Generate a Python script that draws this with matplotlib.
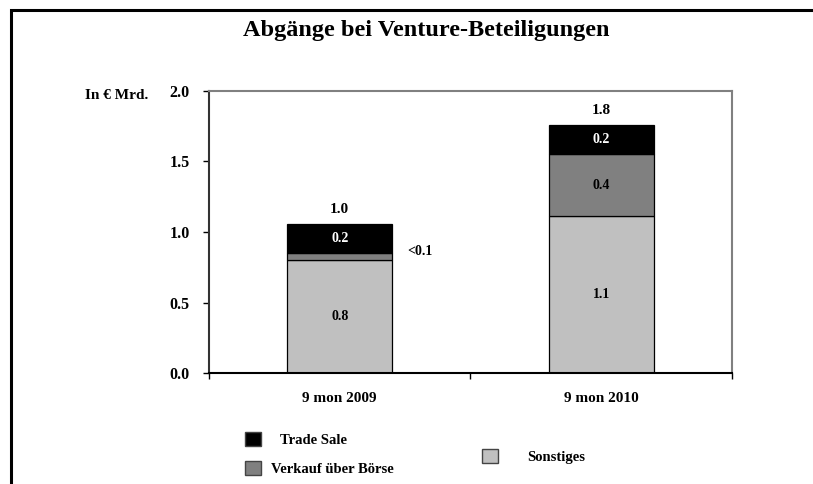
import matplotlib.pyplot as plt
from matplotlib.patches import Rectangle, Patch

# Daten
kategorien = ['9 mon 2009', '9 mon 2010']
sonstiges = [0.80, 1.11]
boerse = [0.05, 0.44]
trade_sale = [0.21, 0.21]
labels_sonstiges = ['0.8', '1.1']
labels_boerse = ['<0.1', '0.4']
labels_trade = ['0.2', '0.2']
labels_total = ['1.0', '1.8']

plt.rcParams['font.family'] = ['Liberation Serif', 'DejaVu Serif']
plt.rcParams['font.weight'] = 'bold'

fig = plt.figure(figsize=(8.13, 4.84), dpi=100)
ax = fig.add_axes([0.257, 0.2293, 0.6434, 0.5827])

x = list(range(len(kategorien)))
b = 0.40
ax.bar(x, sonstiges, width=b, color='#c0c0c0', edgecolor='black', linewidth=0.9)
ax.bar(x, boerse, width=b, bottom=sonstiges, color='#808080', edgecolor='black', linewidth=0.9)
unten = [s + v for s, v in zip(sonstiges, boerse)]
ax.bar(x, trade_sale, width=b, bottom=unten, color='black', edgecolor='black', linewidth=0.9)

for i in x:
    ax.text(i, sonstiges[i] / 2, labels_sonstiges[i], ha='center', va='center', fontsize=10)
    ax.text(i, unten[i] + trade_sale[i] / 2, labels_trade[i], ha='center', va='center',
            fontsize=10, color='white')
    total = unten[i] + trade_sale[i]
    ax.text(i, total + 0.1, labels_total[i], ha='center', va='center', fontsize=11)
# Börse-Anteil
ax.text(0.26, sonstiges[0] + boerse[0] / 2 + 0.04, labels_boerse[0], ha='left', va='center', fontsize=10)
ax.text(1, sonstiges[1] + boerse[1] / 2, labels_boerse[1], ha='center', va='center', fontsize=10)

ax.set_xlim(-0.5, 1.5)
ax.set_ylim(0, 2.0)
ax.set_yticks([0, 0.5, 1.0, 1.5, 2.0])
ax.set_yticklabels(['0.0', '0.5', '1.0', '1.5', '2.0'], fontsize=11.5)
ax.set_xticks([-0.5, 0.5, 1.5])
ax.set_xticklabels([])
ax.set_xticks(x, minor=True)
ax.set_xticklabels(kategorien, minor=True, fontsize=11)
ax.tick_params(axis='x', which='minor', length=0, pad=14)
ax.tick_params(axis='both', which='major', length=4, direction='out', width=1)
ax.tick_params(axis='y', pad=10)
for s in ['top', 'right']:
    ax.spines[s].set_color('#808080')
    ax.spines[s].set_linewidth(1.5)
ax.spines['left'].set_color('#333333')
ax.spines['left'].set_linewidth(1.5)
ax.spines['bottom'].set_linewidth(1.5)

fig.text(0.524, 0.937, 'Abgänge bei Venture-Beteiligungen', ha='center', va='center', fontsize=17.5)
fig.text(0.143, 0.803, 'In € Mrd.', ha='center', va='center', fontsize=11)

# Legende
leg_opts = dict(frameon=False, fontsize=10.5, handlelength=1.1, handleheight=1.1)
fig.legend(handles=[Patch(facecolor='black', edgecolor='#444444', label='Trade Sale')],
           loc='center left', bbox_to_anchor=(0.285, 0.091), handletextpad=1.3, **leg_opts)
fig.legend(handles=[Patch(facecolor='#808080', edgecolor='#444444', label='Verkauf über Börse')],
           loc='center left', bbox_to_anchor=(0.285, 0.033), handletextpad=0.7, **leg_opts)
fig.legend(handles=[Patch(facecolor='#c0c0c0', edgecolor='#444444', label='Sonstiges')],
           loc='center left', bbox_to_anchor=(0.577, 0.057), handletextpad=2.0, **leg_opts)

# Rahmen
fig.patches.append(Rectangle((11 / 813, -0.1), 1.2, 1.1 - 9.5 / 484, transform=fig.transFigure,
                             fill=False, edgecolor='black', linewidth=2.2))

fig.savefig('out.png', dpi=100)
